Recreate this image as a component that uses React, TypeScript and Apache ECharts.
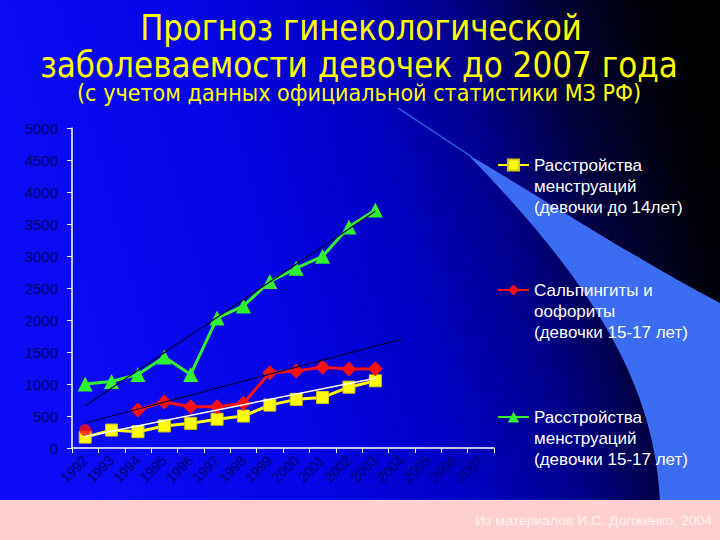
import React, { useEffect, useRef } from "react";
import * as echarts from "echarts";

const years = ["1992", "1993", "1994", "1995", "1996", "1997", "1998", "1999", "2000", "2001", "2002", "2003", "2004", "2005", "2006", "2007"];

const nameMenstr14 = "Расстройства\nменструаций\n(девочки до 14лет)";
const nameSalping = "Сальпингиты и\nоофориты\n(девочки 15-17 лет)";
const nameMenstr1517 = "Расстройства\nменструаций\n(девочки 15-17 лет)";

const menstr14 = [170, 280, 255, 345, 385, 450, 500, 670, 760, 790, 950, 1050, null, null, null, null];
const salpingFirst = 280;
const salping = [null, null, 595, 720, 645, 645, 700, 1175, 1205, 1260, 1235, 1240, null, null, null, null];
const menstr1517 = [1000, 1040, 1150, 1420, 1150, 2030, 2220, 2600, 2810, 2995, 3455, 3720, null, null, null, null];

const trendMenstr14 = [180, null, null, null, null, null, null, null, null, null, null, 1090, null, null, null, null];
const trendSalping = [390, null, null, null, null, null, null, null, null, null, null, null, 1700, null, null, null];
const trendMenstr1517 = [660, null, null, null, null, null, null, null, null, null, null, 3700, null, null, null, null];

const titleLines = [
  "Прогноз гинекологической",
  "заболеваемости девочек до 2007 года",
  "(с учетом данных официальной статистики МЗ РФ)",
];
const footerText = "Из материалов И.С. Долженко, 2004";

function fitScale(text: string, font: string, target: number): number {
  try {
    const ctx = document.createElement("canvas").getContext("2d");
    if (!ctx) return 1;
    ctx.font = font;
    const w = ctx.measureText(text).width;
    return w > 0 ? target / w : 1;
  } catch (e) {
    return 1;
  }
}

const swooshPath =
  "M470,156 C530,190 620,250 720,303 L720,500 L660,500 C655,400 610,300 470,157 Z";

export default function App() {
  const ref = useRef<HTMLDivElement>(null);

  useEffect(() => {
    if (!ref.current) return;
    try {
      echarts.graphic.registerShape("swoosh", echarts.graphic.extendPath(swooshPath, {}));
    } catch (e) {}
    const chart = echarts.init(ref.current, undefined, { renderer: "svg" });

    const titleFont = "DejaVu Sans";
    const t1 = fitScale(titleLines[0], `35px '${titleFont}'`, 442);
    const t2 = fitScale(titleLines[1], `35px '${titleFont}'`, 638);
    const t3 = fitScale(titleLines[2], `23px '${titleFont}'`, 564);
    const tf = fitScale(footerText, `13px 'Liberation Sans'`, 237);

    const axisLabelColor = "#00006e";
    const legendTops = [112.5, 237.5, 364.5];
    const legendNames = [nameMenstr14, nameSalping, nameMenstr1517];

    const option: any = {
      animation: false,
      backgroundColor: "#0000c0",
      graphic: [
        {
          type: "rect",
          z: -10,
          shape: { x: 0, y: 0, width: 720, height: 540 },
          style: {
            fill: {
              type: "linear",
              x: 0,
              y: 0.5,
              x2: 1,
              y2: 0.3,
              colorStops: [
                { offset: 0, color: "#0c0cf8" },
                { offset: 0.35, color: "#0505e6" },
                { offset: 0.55, color: "#0000c2" },
                { offset: 0.7, color: "#000088" },
                { offset: 0.82, color: "#00003c" },
                { offset: 0.94, color: "#00000c" },
                { offset: 1, color: "#000000" },
              ],
            },
          },
        },
        {
          type: "swoosh",
          z: -9,
          x: 0,
          y: 0,
          style: { fill: "#3b6cf2" },
        },
        {
          type: "line",
          z: -9,
          shape: { x1: 398, y1: 108, x2: 472, y2: 157 },
          style: { stroke: "#2a4ed0", lineWidth: 1.5 },
        },
        {
          type: "rect",
          z: -8,
          shape: { x: 0, y: 500, width: 720, height: 40 },
          style: { fill: "#fdd0cf" },
        },
        {
          type: "text",
          z: 5,
          x: 712,
          y: 521,
          scaleX: tf,
          style: {
            text: footerText,
            fill: "#fff2f2",
            fontSize: 13,
            fontFamily: "Liberation Sans",
            align: "right",
            verticalAlign: "middle",
          },
        },
        {
          type: "text",
          z: 5,
          x: 361,
          y: 27.5,
          scaleX: t1,
          style: {
            text: titleLines[0],
            fill: "#ffff00",
            fontSize: 35,
            fontFamily: titleFont,
            align: "center",
            verticalAlign: "middle",
          },
        },
        {
          type: "text",
          z: 5,
          x: 359,
          y: 64.5,
          scaleX: t2,
          style: {
            text: titleLines[1],
            fill: "#ffff00",
            fontSize: 35,
            fontFamily: titleFont,
            align: "center",
            verticalAlign: "middle",
          },
        },
        {
          type: "text",
          z: 5,
          x: 359,
          y: 93.5,
          scaleX: t3,
          style: {
            text: titleLines[2],
            fill: "#ffff00",
            fontSize: 23,
            fontFamily: titleFont,
            align: "center",
            verticalAlign: "middle",
          },
        },
      ],
      legend: legendNames.map((n, i) => ({
        data: [n],
        orient: "vertical",
        left: 497,
        top: legendTops[i],
        padding: 0,
        itemWidth: 31,
        itemHeight: 14,
        itemGap: 0,
        selectedMode: false,
        formatter: (name: string) => "\n\n" + name,
        textStyle: {
          color: "#ffffff",
          fontSize: 17,
          fontFamily: "Liberation Sans",
          lineHeight: 21,
        },
      })),
      grid: { left: 72, right: 226, top: 128, bottom: 92, containLabel: false },
      xAxis: {
        type: "category",
        data: years,
        boundaryGap: true,
        axisLine: { show: true, lineStyle: { color: "#ffffff", width: 1.5 } },
        axisTick: { show: true, length: 5, lineStyle: { color: "#ffffff" } },
        axisLabel: {
          interval: 0,
          rotate: 45,
          color: axisLabelColor,
          fontSize: 14,
          fontFamily: "Liberation Sans",
          margin: 10,
        },
        splitLine: { show: false },
      },
      yAxis: {
        type: "value",
        min: 0,
        max: 5000,
        interval: 500,
        axisLine: { show: true, lineStyle: { color: "#ffffff", width: 1.5 } },
        axisTick: { show: true, length: 5, lineStyle: { color: "#ffffff" } },
        axisLabel: {
          color: axisLabelColor,
          fontSize: 15,
          fontFamily: "Liberation Sans",
          margin: 14,
          formatter: (v: number) => String(v),
        },
        splitLine: { show: false },
      },
      series: [
        {
          name: nameMenstr14,
          type: "line",
          data: menstr14,
          symbol: "rect",
          symbolSize: 12,
          lineStyle: { color: "#ffff00", width: 3 },
          itemStyle: { color: "#ffff00", borderColor: "#d8c800", borderWidth: 1 },
          z: 3,
        },
        {
          name: nameSalping,
          type: "line",
          data: salping,
          symbol: "diamond",
          symbolSize: 15,
          lineStyle: { color: "#ff1010", width: 3 },
          itemStyle: { color: "#ff1010" },
          z: 3,
        },
        {
          name: nameSalping + " ",
          type: "scatter",
          data: [[0, salpingFirst]],
          symbol: "circle",
          symbolSize: 12,
          itemStyle: { color: "#ff1010" },
          z: 3,
        },
        {
          name: nameMenstr1517,
          type: "line",
          data: menstr1517,
          symbol: "triangle",
          symbolSize: 15,
          lineStyle: { color: "#30f030", width: 3 },
          itemStyle: { color: "#30f030" },
          z: 3,
        },
        {
          name: "trend1",
          type: "line",
          data: trendMenstr14,
          connectNulls: true,
          symbol: "none",
          silent: true,
          lineStyle: { color: "#ffffff", width: 1.5 },
          z: 4,
        },
        {
          name: "trend2",
          type: "line",
          data: trendSalping,
          connectNulls: true,
          symbol: "none",
          silent: true,
          lineStyle: { color: "#000040", width: 1.2 },
          z: 4,
        },
        {
          name: "trend3",
          type: "line",
          data: trendMenstr1517,
          connectNulls: true,
          symbol: "none",
          silent: true,
          lineStyle: { color: "#000040", width: 1.2 },
          z: 4,
        },
      ],
    };

    chart.setOption(option);
    return () => {
      chart.dispose();
    };
  }, []);

  return (
    <div
      ref={ref}
      style={{ position: "absolute", left: 0, top: 0, width: 720, height: 540 }}
    />
  );
}
